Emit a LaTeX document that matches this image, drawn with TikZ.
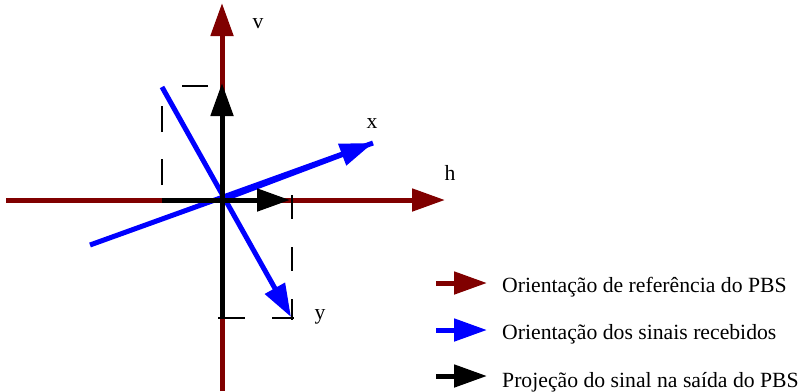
\documentclass[tikz,border=0pt]{standalone}
\usepackage{fontspec}
\setmainfont{Liberation Serif}
\usetikzlibrary{arrows.meta}
\definecolor{axisred}{RGB}{128,0,0}
\definecolor{sigblue}{RGB}{0,0,255}
\tikzset{
  vec/.style={line width=5bp, -{Triangle[length=33bp,width=22bp]}},
  bar/.style={line width=5bp},
  proj/.style={black, line width=1.5bp, dash pattern=on 26bp off 27bp},
  lbl/.style={font=\fontsize{21.7bp}{26bp}\selectfont, inner sep=0pt, anchor=base},
  leg/.style={font=\fontsize{21.7bp}{26bp}\selectfont, inner sep=0pt, anchor=base west},
}
\begin{document}
\begin{tikzpicture}[x=1bp,y=-1bp]
\useasboundingbox (0,0) rectangle (799,391);
% coordinates
\coordinate (O) at (222,200);
\coordinate (hS) at (6,200);
\coordinate (hE) at (445,200);
\coordinate (vS) at (222,391);
\coordinate (vE) at (222,3);
\coordinate (xS) at (90,245);
\coordinate (xE) at (373,143);
\coordinate (yS) at (162,87);
\coordinate (yE) at (291,317);
\coordinate (pv) at (222,83);
\coordinate (pvB) at (222,318);
\coordinate (ph) at (290,200);
\coordinate (phB) at (162,200);
% reference axes
\draw[vec, axisred] (hS) -- (hE);
\draw[vec, axisred] (vS) -- (vE);
% received signals
\draw[bar, sigblue] (xS) -- (xE);
\draw[vec, sigblue] (yS) -- (yE);
\draw[vec, sigblue] (O) -- (xE);
% projections
\draw[bar, black] (O) -- (pvB);
\draw[bar, black] (phB) -- (O);
\draw[vec, black] (O) -- (pv);
\draw[vec, black] (O) -- (ph);
% dashed guides
\coordinate (d1) at (162,86);
\coordinate (d2) at (222,86);
\draw[proj, dash phase=38bp] (phB) -- (d1);
\draw[proj, dash phase=39bp] (d2) -- (d1);
\coordinate (d3) at (292,195);
\coordinate (d4) at (292,320);
\coordinate (d5) at (218,318);
\coordinate (d6) at (294,318);
\draw[proj, dash pattern=on 24bp off 28bp] (d3) -- (d4);
\draw[proj, dash pattern=on 27bp off 27bp] (d5) -- (d6);
% axis labels
\node[lbl] (lv) at (258,28) {v};
\node[lbl] (lh) at (450,180) {h};
\node[lbl] (lx) at (372,128) {x};
\node[lbl] (ly) at (320,319) {y};
% legend
\coordinate (a1) at (436,283);
\coordinate (b1) at (487,283);
\coordinate (a2) at (436,330);
\coordinate (b2) at (487,330);
\coordinate (a3) at (436,376);
\coordinate (b3) at (487,376);
\draw[vec, axisred] (a1) -- (b1);
\draw[vec, sigblue] (a2) -- (b2);
\draw[vec, black] (a3) -- (b3);
\node[leg] (t1) at (502,292) {Orientação de referência do PBS};
\node[leg] (t2) at (502,339) {Orientação dos sinais recebidos};
\node[leg] (t3) at (502,387) {Projeção do sinal na saída do PBS};
\end{tikzpicture}
\end{document}
